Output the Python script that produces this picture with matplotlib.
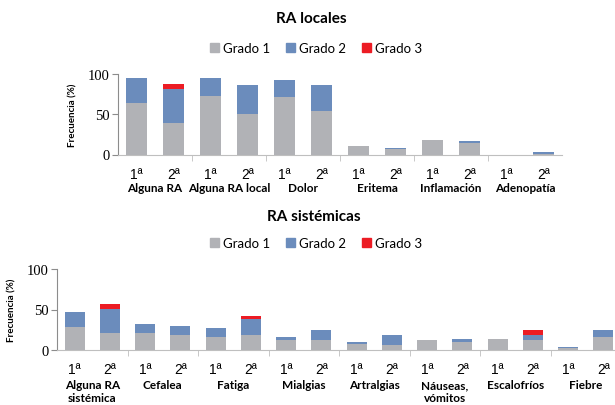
import matplotlib.pyplot as plt
from matplotlib.patches import Patch
from matplotlib.transforms import blended_transform_factory

plt.rcParams['font.family'] = ['Lato', 'DejaVu Sans']

# RA locales
local_groups = ['Alguna RA', 'Alguna RA local', 'Dolor', 'Eritema', 'Inflamación', 'Adenopatía']
local_g1 = [64, 39, 73, 50, 71, 54, 10, 7, 18, 14, 0, 0.5]
local_g2 = [31, 42, 22, 36, 22, 32, 0, 1, 0, 2.5, 0, 2]
local_g3 = [0, 6, 0, 0, 0, 0, 0, 0, 0, 0, 0, 0]

# RA sistémicas
sys_groups = ['Alguna RA\nsistémica', 'Cefalea', 'Fatiga', 'Mialgias', 'Artralgias',
              'Náuseas,\nvómitos', 'Escalofríos', 'Fiebre']
sys_g1 = [29, 21, 21, 19, 16, 18, 12, 12, 8, 6, 12, 10, 13.5, 12, 2, 16]
sys_g2 = [18.5, 30, 11, 11, 11, 20, 4, 13, 2, 12, 0, 4, 0, 7, 2, 9]
sys_g3 = [0, 6, 0, 0, 0, 4, 0, 0, 0, 0, 0, 0, 0, 6, 0, 0]

y_ticks = [0, 50, 100]
dose_labels = ['1ª', '2ª']
series_names = ['Grado 1', 'Grado 2', 'Grado 3']
colors = ['#B1B2B6', '#6B8CBC', '#EC1C24']

W, H = 615, 406
fig = plt.figure(figsize=(W / 100, H / 100), dpi=100)


def px_axes(left, bottom_y, width, height):
    # pixel coordinates with y measured from the top
    return fig.add_axes([left / W, (H - bottom_y) / H, width / W, height / H])


def draw_panel(ax, groups, g1, g2, g3, label_y, name_y):
    n = len(g1)
    x = list(range(n))
    b2 = [a for a in g1]
    b3 = [a + b for a, b in zip(g1, g2)]
    for vals, bottom, c in zip([g1, g2, g3], [None, b2, b3], colors):
        ax.bar(x, vals, bottom=bottom, width=0.57, color=c, linewidth=0)
    ax.set_xlim(-0.5, n - 0.5)
    ax.set_ylim(0, 100)
    ax.set_yticks(y_ticks, labels=[str(t) for t in y_ticks])
    plt.setp(ax.get_yticklabels(), family='Liberation Serif', fontsize=10.5)
    ax.tick_params(axis='y', length=4, color='#8C8C8C', pad=2)
    ax.set_xticks([i + 1.5 for i in range(0, n - 2, 2)], minor=True)
    ax.set_xticks([])
    ax.tick_params(axis='x', which='minor', length=4, color='#BFBFBF')
    for s in ['top', 'right']:
        ax.spines[s].set_visible(False)
    ax.spines['left'].set_color('#8C8C8C')
    ax.spines['bottom'].set_color('#BFBFBF')
    tr = blended_transform_factory(ax.transData, fig.transFigure)
    for i in range(n):
        ax.text(i, 1 - label_y / H, dose_labels[i % 2], transform=tr, ha='center',
                va='center', fontsize=10, family='Liberation Sans')
    for k, g in enumerate(groups):
        ax.text(2 * k + 0.5, 1 - name_y / H, g, transform=tr, ha='center', va='top',
                fontsize=8.5, fontweight='bold', linespacing=1.2)


handles = [Patch(color=c) for c in colors]

# top panel
ax1 = px_axes(118, 155.5, 444, 80.5)
draw_panel(ax1, local_groups, local_g1, local_g2, local_g3, 175, 183)
fig.text(311 / W, 1 - 19 / H, 'RA locales', ha='center', va='center',
         fontsize=11, fontweight='bold')
fig.legend(handles, series_names, loc='center', bbox_to_anchor=(316 / W, 1 - 49 / H),
           ncol=3, frameon=False, fontsize=9.5, handlelength=0.7, handleheight=0.7,
           handletextpad=0.3, columnspacing=1.2)
fig.text(73 / W, 1 - 115 / H, 'Frecuencia (%)', rotation=90, ha='center', va='center',
         fontsize=7, fontweight='bold')

# bottom panel
ax2 = px_axes(57, 351, 564, 81)
draw_panel(ax2, sys_groups, sys_g1, sys_g2, sys_g3, 370, 380)
fig.text(314 / W, 1 - 217 / H, 'RA sistémicas', ha='center', va='center',
         fontsize=11, fontweight='bold')
fig.legend(handles, series_names, loc='center', bbox_to_anchor=(316 / W, 1 - 244 / H),
           ncol=3, frameon=False, fontsize=9.5, handlelength=0.7, handleheight=0.7,
           handletextpad=0.3, columnspacing=1.2)
fig.text(12 / W, 1 - 310 / H, 'Frecuencia (%)', rotation=90, ha='center', va='center',
         fontsize=7, fontweight='bold')

fig.savefig('out.png', dpi=100)
